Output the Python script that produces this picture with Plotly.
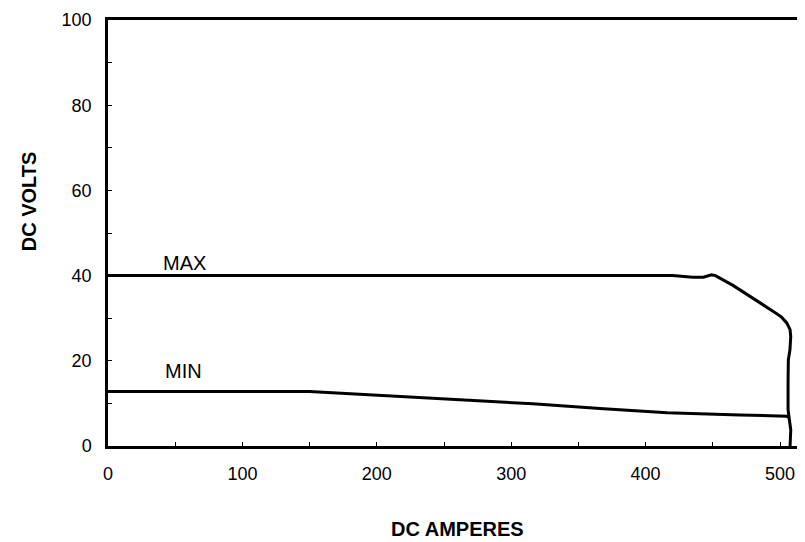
import plotly.graph_objects as go

# MAX curve (DC amperes, DC volts)
max_amps = [0, 420, 435, 443, 449, 452, 465, 478, 488, 495, 501, 505, 507.5, 508, 507.4, 506.2, 506, 506, 507, 508, 507.5]
max_volts = [40, 40, 39.6, 39.6, 40.2, 40, 37.7, 35.1, 33.2, 31.6, 30.3, 28.9, 27.3, 25.7, 22.6, 20.2, 15, 8.5, 6.1, 3.8, 0]

# MIN curve
min_amps = [0, 150, 160, 217, 292, 316, 366, 416, 470, 505, 506.2]
min_volts = [12.8, 12.8, 12.6, 11.6, 10.4, 9.9, 8.8, 7.8, 7.3, 7.0, 6.7]

FONT = "Liberation Sans, Arial, sans-serif"

fig = go.Figure()
fig.add_trace(go.Scatter(x=max_amps, y=max_volts, mode="lines",
                         line=dict(color="black", width=3), showlegend=False))
fig.add_trace(go.Scatter(x=min_amps, y=min_volts, mode="lines",
                         line=dict(color="black", width=3), showlegend=False))

fig.add_annotation(x=57, y=43, text="MAX", showarrow=False, yanchor="middle",
                   font=dict(size=20, color="black", family=FONT))
fig.add_annotation(x=56.5, y=17.7, text="MIN", showarrow=False, yanchor="middle",
                   font=dict(size=20, color="black", family=FONT))

# axis titles
fig.add_annotation(xref="paper", yref="paper", x=0.501, y=-0.196, text="<b>DC AMPERES</b>",
                   showarrow=False, yanchor="middle", font=dict(size=20, color="black", family=FONT))
fig.add_annotation(xref="paper", yref="paper", x=-0.113, y=0.575, text="<b>DC VOLTS</b>",
                   showarrow=False, textangle=-90, xanchor="center", yanchor="middle",
                   font=dict(size=20, color="black", family=FONT))

# the page body has an 8px margin, so the figure is laid out from (8, 8)
fig.update_layout(
    width=805, height=542,
    paper_bgcolor="white", plot_bgcolor="white",
    margin=dict(l=100, r=8, t=12, b=104),
    font=dict(family=FONT, size=18, color="black"),
    xaxis=dict(range=[0, 518.6], showgrid=False, zeroline=False, automargin=False,
               showline=True, linecolor="black", linewidth=2.5, mirror=True,
               tickmode="linear", tick0=0, dtick=100,
               ticks="inside", ticklen=4, tickwidth=1, tickcolor="black",
               minor=dict(dtick=50, ticks="inside", ticklen=4, tickwidth=1, tickcolor="black"),
               ticklabelstandoff=10),
    yaxis=dict(range=[0, 100], showgrid=False, zeroline=False, automargin=False,
               showline=True, linecolor="black", linewidth=2.5,
               tickmode="linear", tick0=0, dtick=20,
               ticks="inside", ticklen=4, tickwidth=1, tickcolor="black",
               minor=dict(dtick=10, ticks="inside", ticklen=4, tickwidth=1, tickcolor="black"),
               ticklabelstandoff=10),
)

fig.write_html("out.html")
